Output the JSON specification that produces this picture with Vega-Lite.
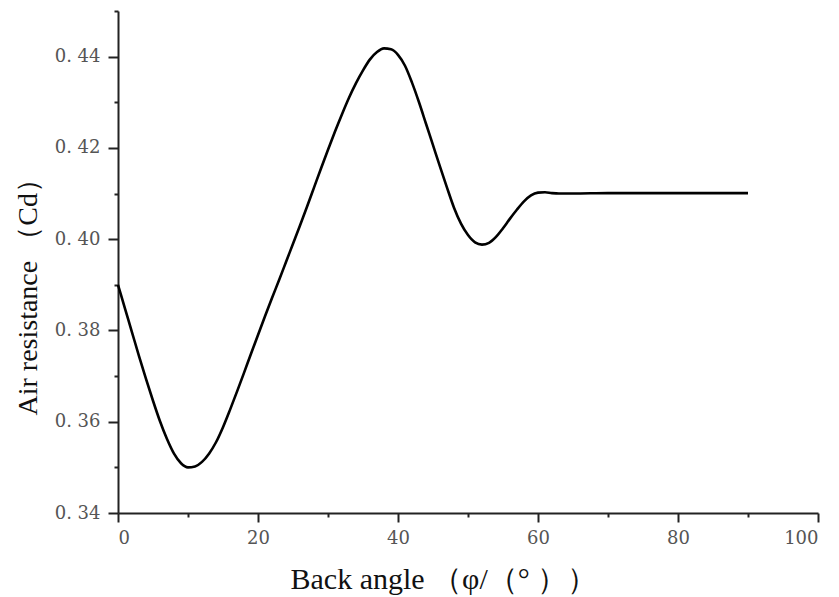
{
  "$schema": "https://vega.github.io/schema/vega-lite/v6.json",
  "width": 700,
  "height": 502,
  "autosize": {"type": "none"},
  "padding": {"left": 118, "top": 11, "right": 21, "bottom": 84},
  "background": "white",
  "config": {"view": {"stroke": null}},
  "data": {"values": [
    {"x": 0, "y": 0.3900}, {"x": 1, "y": 0.3848}, {"x": 2, "y": 0.3796}, {"x": 3, "y": 0.3744},
    {"x": 4, "y": 0.3694}, {"x": 5, "y": 0.3646}, {"x": 6, "y": 0.3601}, {"x": 7, "y": 0.3562},
    {"x": 8, "y": 0.3530}, {"x": 9, "y": 0.3509}, {"x": 10, "y": 0.3500}, {"x": 11, "y": 0.3502},
    {"x": 12, "y": 0.3512}, {"x": 13, "y": 0.3530}, {"x": 14, "y": 0.3555}, {"x": 15, "y": 0.3588},
    {"x": 16, "y": 0.3626}, {"x": 17, "y": 0.3666}, {"x": 18, "y": 0.3707}, {"x": 19, "y": 0.3749},
    {"x": 20, "y": 0.3790}, {"x": 21, "y": 0.3831}, {"x": 22, "y": 0.3871}, {"x": 23, "y": 0.3910},
    {"x": 24, "y": 0.3950}, {"x": 25, "y": 0.3990}, {"x": 26, "y": 0.4030}, {"x": 27, "y": 0.4071},
    {"x": 28, "y": 0.4113}, {"x": 29, "y": 0.4155}, {"x": 30, "y": 0.4196}, {"x": 31, "y": 0.4236},
    {"x": 32, "y": 0.4274}, {"x": 33, "y": 0.4310}, {"x": 34, "y": 0.4342}, {"x": 35, "y": 0.4370},
    {"x": 36, "y": 0.4394}, {"x": 37, "y": 0.4410}, {"x": 38, "y": 0.4418}, {"x": 39, "y": 0.4416},
    {"x": 40, "y": 0.4404}, {"x": 41, "y": 0.4380}, {"x": 42, "y": 0.4343}, {"x": 43, "y": 0.4300},
    {"x": 44, "y": 0.4253}, {"x": 45, "y": 0.4206}, {"x": 46, "y": 0.4159}, {"x": 47, "y": 0.4113},
    {"x": 48, "y": 0.4069}, {"x": 49, "y": 0.4034}, {"x": 50, "y": 0.4009}, {"x": 51, "y": 0.3993},
    {"x": 52, "y": 0.3988}, {"x": 53, "y": 0.3992}, {"x": 54, "y": 0.4005}, {"x": 55, "y": 0.4024},
    {"x": 56, "y": 0.4045}, {"x": 57, "y": 0.4065}, {"x": 58, "y": 0.4083}, {"x": 59, "y": 0.4096},
    {"x": 60, "y": 0.4102}, {"x": 61, "y": 0.4103}, {"x": 62, "y": 0.4101}, {"x": 63, "y": 0.4100},
    {"x": 65, "y": 0.4100}, {"x": 70, "y": 0.4101}, {"x": 80, "y": 0.4101}, {"x": 90, "y": 0.4101}
  ]},
  "layer": [
    {
      "mark": {"type": "line", "color": "black", "strokeWidth": 2.6, "interpolate": "monotone"},
      "encoding": {
        "x": {"field": "x", "type": "quantitative",
          "scale": {"domain": [0, 100], "nice": false, "zero": false},
          "axis": {"orient": "bottom", "values": [0, 20, 40, 60, 80, 100], "grid": false,
            "domainColor": "#222", "domainWidth": 2, "tickColor": "#222", "tickWidth": 2, "tickSize": 9,
            "labelFont": "DejaVu Serif", "labelFontSize": 18, "labelColor": "#555", "labelPadding": 7,
            "title": "Back angle  （φ/（°  ））", "titleFont": "Liberation Serif", "titleFontSize": 30,
            "titleFontWeight": "normal", "titleColor": "#111", "titleX": 172, "titleY": 75,
            "titleBaseline": "alphabetic", "titleAlign": "left"}},
        "y": {"field": "y", "type": "quantitative",
          "scale": {"domain": [0.34, 0.45], "nice": false, "zero": false},
          "axis": {"orient": "left", "values": [0.34, 0.36, 0.38, 0.40, 0.42, 0.44], "grid": false,
            "labelExpr": "replace(format(datum.value, '.2f'), '.', '. ')",
            "domainColor": "#222", "domainWidth": 2, "tickColor": "#222", "tickWidth": 2, "tickSize": 10,
            "labelFont": "DejaVu Serif", "labelFontSize": 18, "labelColor": "#555", "labelPadding": 8,
            "title": "Air resistance  （Cd）", "titleFont": "Liberation Serif", "titleFontSize": 28,
            "titleFontWeight": "normal", "titleColor": "#111", "titleX": -90, "titleY": 404,
            "titleBaseline": "middle", "titleAlign": "left", "titleAngle": -90}}
      }
    },
    {
      "mark": {"type": "line", "strokeOpacity": 0},
      "encoding": {
        "x": {"field": "x", "type": "quantitative",
          "axis": {"orient": "bottom", "values": [10, 30, 50, 70, 90], "grid": false, "domain": false,
            "labels": false, "title": null, "tickColor": "#222", "tickWidth": 2, "tickSize": 4}},
        "y": {"field": "y", "type": "quantitative",
          "axis": {"orient": "left", "values": [0.35, 0.37, 0.39, 0.41, 0.43, 0.45], "grid": false, "domain": false,
            "labels": false, "title": null, "tickColor": "#222", "tickWidth": 2, "tickSize": 4}}
      }
    }
  ],
  "resolve": {"axis": {"x": "independent", "y": "independent"}}
}
